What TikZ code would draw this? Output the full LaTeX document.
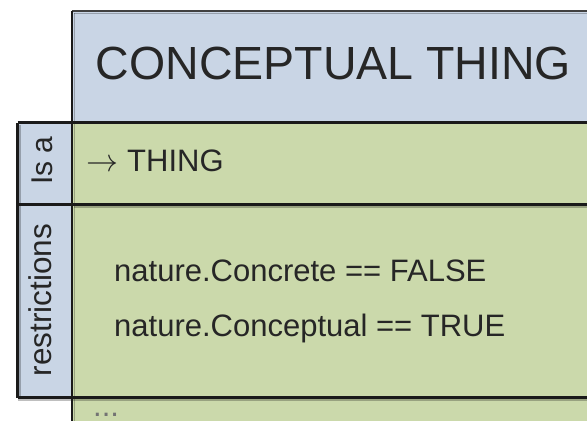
\documentclass[tikz,border=0pt]{standalone}
\usepackage{fontspec}
\setmainfont{Liberation Sans}
\usepackage{graphicx}
\usepackage{xcolor}
\usepackage{tikz}
\usetikzlibrary{positioning}
\definecolor{titleblue}{RGB}{201,213,229}
\definecolor{bandgreen}{RGB}{203,217,171}
\definecolor{edgedark}{RGB}{26,26,26}
\definecolor{inkgray}{RGB}{38,38,38}

\begin{document}
\begin{tikzpicture}[x=1pt, y=-1pt,
    border/.style={draw=edgedark, line width=2.6pt},
    shade/.style={draw=black, opacity=0.25, line width=1.6pt},
    tabtext/.style={font=\fontsize{30}{34}\selectfont, text=inkgray, rotate=90, inner sep=0pt},
    bodytext/.style={font=\fontsize{31}{55}\selectfont, text=inkgray, inner sep=0pt, anchor=base west}]

\useasboundingbox (0, 0) rectangle (587, 421);

% Backgrounds
\fill[titleblue] (72, 11) rectangle (587, 122.5);
\fill[titleblue] (17.5, 122.5) rectangle (72, 397.5);
\fill[bandgreen] (72, 122.5) rectangle (587, 421);

% Soft shadow next to the borders
\draw[shade] (74, 13.5) -- (587, 13.5);
\draw[shade] (74.5, 13) -- (74.5, 421);
\draw[shade] (20, 125) -- (20, 397.5);
\draw[shade] (74, 207) -- (587, 207);
\draw[shade] (17.5, 400) -- (587, 400);

% Borders
\draw[border, draw=black!75] (72, 11) -- (587, 11);
\draw[border] (72, 11) -- (72, 421);
\draw[border] (17.5, 122.5) -- (587, 122.5);
\draw[border] (17.5, 204.5) -- (587, 204.5);
\draw[border] (17.5, 397.5) -- (587, 397.5);
\draw[border] (17.5, 122.5) -- (17.5, 397.5);

% Title
\node[font=\fontsize{46.5}{50}\selectfont, text=inkgray, inner sep=0pt, anchor=base west] (title) at (95.5, 79) {CONCEPTUAL THING};

% Tabs
\node[tabtext] (isa) at (42, 160.5) {Is a};
\node[tabtext, font=\fontsize{31.5}{34}\selectfont] (restr) at (40, 300) {restrictions};

% Contents
\node[bodytext] (parent) at (86, 171) {\resizebox{32pt}{!}{$\rightarrow$}\hspace{9pt}THING};
\node[bodytext, align=left] (rules) at (114, 336) {nature.Concrete == FALSE\\nature.Conceptual == TRUE};
\node[bodytext, text=black!55] (more) at (93, 416) {...};

\end{tikzpicture}
\end{document}
